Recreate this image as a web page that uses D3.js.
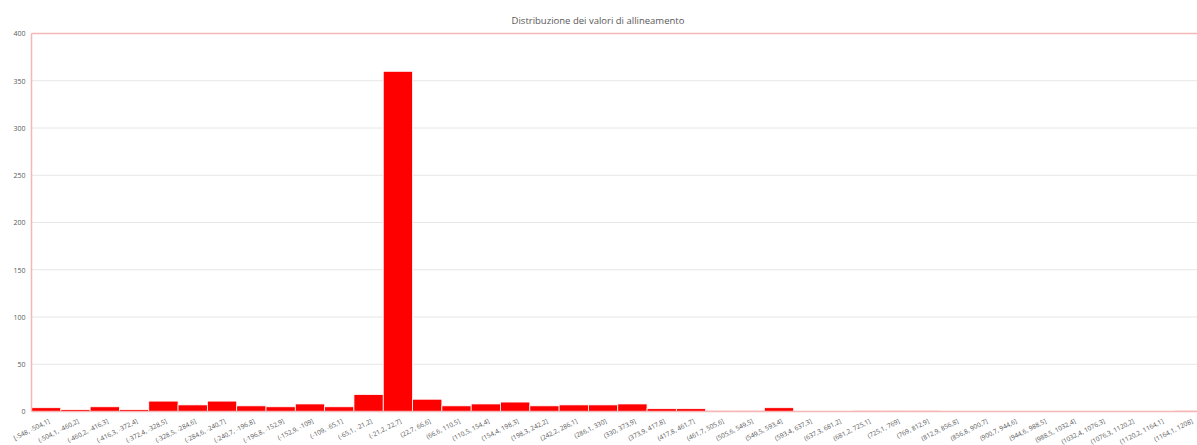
<html>
<head>
  <script src="https://d3js.org/d3.v7.min.js"></script>
  <style>
    body { margin: 0; background: #fff; }
    text { font-family: "Open Sans", "Liberation Sans", sans-serif; }
  </style>
</head>
<body>
<div id="my_dataviz"></div>
<script>
// bins of the histogram (labels as in the original sheet)
var bins = ["[-548, -504,1]", "(-504,1, -460,2]", "(-460,2, -416,3]", "(-416,3, -372,4]",
  "(-372,4, -328,5]", "(-328,5, -284,6]", "(-284,6, -240,7]", "(-240,7, -196,8]",
  "(-196,8, -152,9]", "(-152,9, -109]", "(-109, -65,1]", "(-65,1, -21,2]",
  "(-21,2, 22,7]", "(22,7, 66,6]", "(66,6, 110,5]", "(110,5, 154,4]",
  "(154,4, 198,3]", "(198,3, 242,2]", "(242,2, 286,1]", "(286,1, 330]",
  "(330, 373,9]", "(373,9, 417,8]", "(417,8, 461,7]", "(461,7, 505,6]",
  "(505,6, 549,5]", "(549,5, 593,4]", "(593,4, 637,3]", "(637,3, 681,2]",
  "(681,2, 725,1]", "(725,1, 769]", "(769, 812,9]", "(812,9, 856,8]",
  "(856,8, 900,7]", "(900,7, 944,6]", "(944,6, 988,5]", "(988,5, 1032,4]",
  "(1032,4, 1076,3]", "(1076,3, 1120,2]", "(1120,2, 1164,1]", "(1164,1, 1208]"];
var counts = [4, 2, 5, 2, 11, 7, 11, 6, 5, 8, 5, 18, 360, 13, 6, 8, 10, 6, 7, 7,
  8, 3, 3, 1, 1, 4, 0, 0, 1, 1, 1, 0, 0, 0, 0, 0, 0, 0, 0, 1];
var yTicks = [0, 50, 100, 150, 200, 250, 300, 350, 400];

var W = 1197, H = 445;
var margin = {top: 33.5, right: -7, bottom: 33.5, left: 31.5},
    width = W - margin.left - margin.right,
    height = H - margin.top - margin.bottom;

var root = d3.select("#my_dataviz").append("svg")
    .attr("width", W).attr("height", H);

root.append("text")
    .attr("x", 598).attr("y", 24)
    .attr("text-anchor", "middle")
    .attr("font-size", 9.5)
    .attr("fill", "#595959")
    .text("Distribuzione dei valori di allineamento");

var svg = root.append("g")
    .attr("transform", "translate(" + margin.left + "," + margin.top + ")");

var x = d3.scaleBand().domain(bins).range([0, width]).padding(0);
var y = d3.scaleLinear().domain([0, 400]).range([height, 0]);

// gridlines
svg.append("g")
  .selectAll("line")
  .data(yTicks.slice(1, -1))
  .enter().append("line")
    .attr("x1", 0).attr("x2", width)
    .attr("y1", function(d) { return y(d); })
    .attr("y2", function(d) { return y(d); })
    .attr("stroke", "#e6e6e6").attr("stroke-width", 1);

// Y axis labels
var yAxis = svg.append("g")
  .call(d3.axisLeft(y).tickValues(yTicks).tickSize(0).tickPadding(6));
yAxis.select(".domain").remove();
yAxis.selectAll("text").attr("font-size", 7).attr("fill", "#595959")
  .style("font-family", "'Open Sans', 'Liberation Sans', sans-serif");

// bars
svg.append("g")
  .selectAll("rect")
  .data(counts)
  .enter().append("rect")
    .attr("x", function(d, i) { return x(bins[i]); })
    .attr("y", function(d) { return y(d); })
    .attr("width", x.bandwidth())
    .attr("height", function(d) { return height - y(d); })
    .attr("fill", "#ff0000")
    .attr("stroke", "#ffffff")
    .attr("stroke-width", 0.8);

// plot frame (pink)
svg.append("line").attr("x1", 0).attr("x2", width).attr("y1", 0).attr("y2", 0)
  .attr("stroke", "#f4b6b6").attr("stroke-width", 1.5);
svg.append("line").attr("x1", 0).attr("x2", 0).attr("y1", 0).attr("y2", height)
  .attr("stroke", "#f4b6b6").attr("stroke-width", 1.5);
svg.append("line").attr("x1", 0).attr("x2", width).attr("y1", height).attr("y2", height)
  .attr("stroke", "#f4b6b6").attr("stroke-width", 1.5);

// X axis labels (rotated)
var xAxis = svg.append("g")
  .attr("transform", "translate(0," + height + ")")
  .call(d3.axisBottom(x).tickSize(0).tickPadding(0));
xAxis.select(".domain").remove();
xAxis.selectAll("text")
  .attr("font-size", 6.5)
  .attr("fill", "#595959")
  .style("font-family", "'Open Sans', 'Liberation Sans', sans-serif")
  .attr("text-anchor", "end")
  .attr("dy", "0.35em")
  .attr("transform", "translate(3,9) rotate(-27)");
</script>
</body>
</html>
